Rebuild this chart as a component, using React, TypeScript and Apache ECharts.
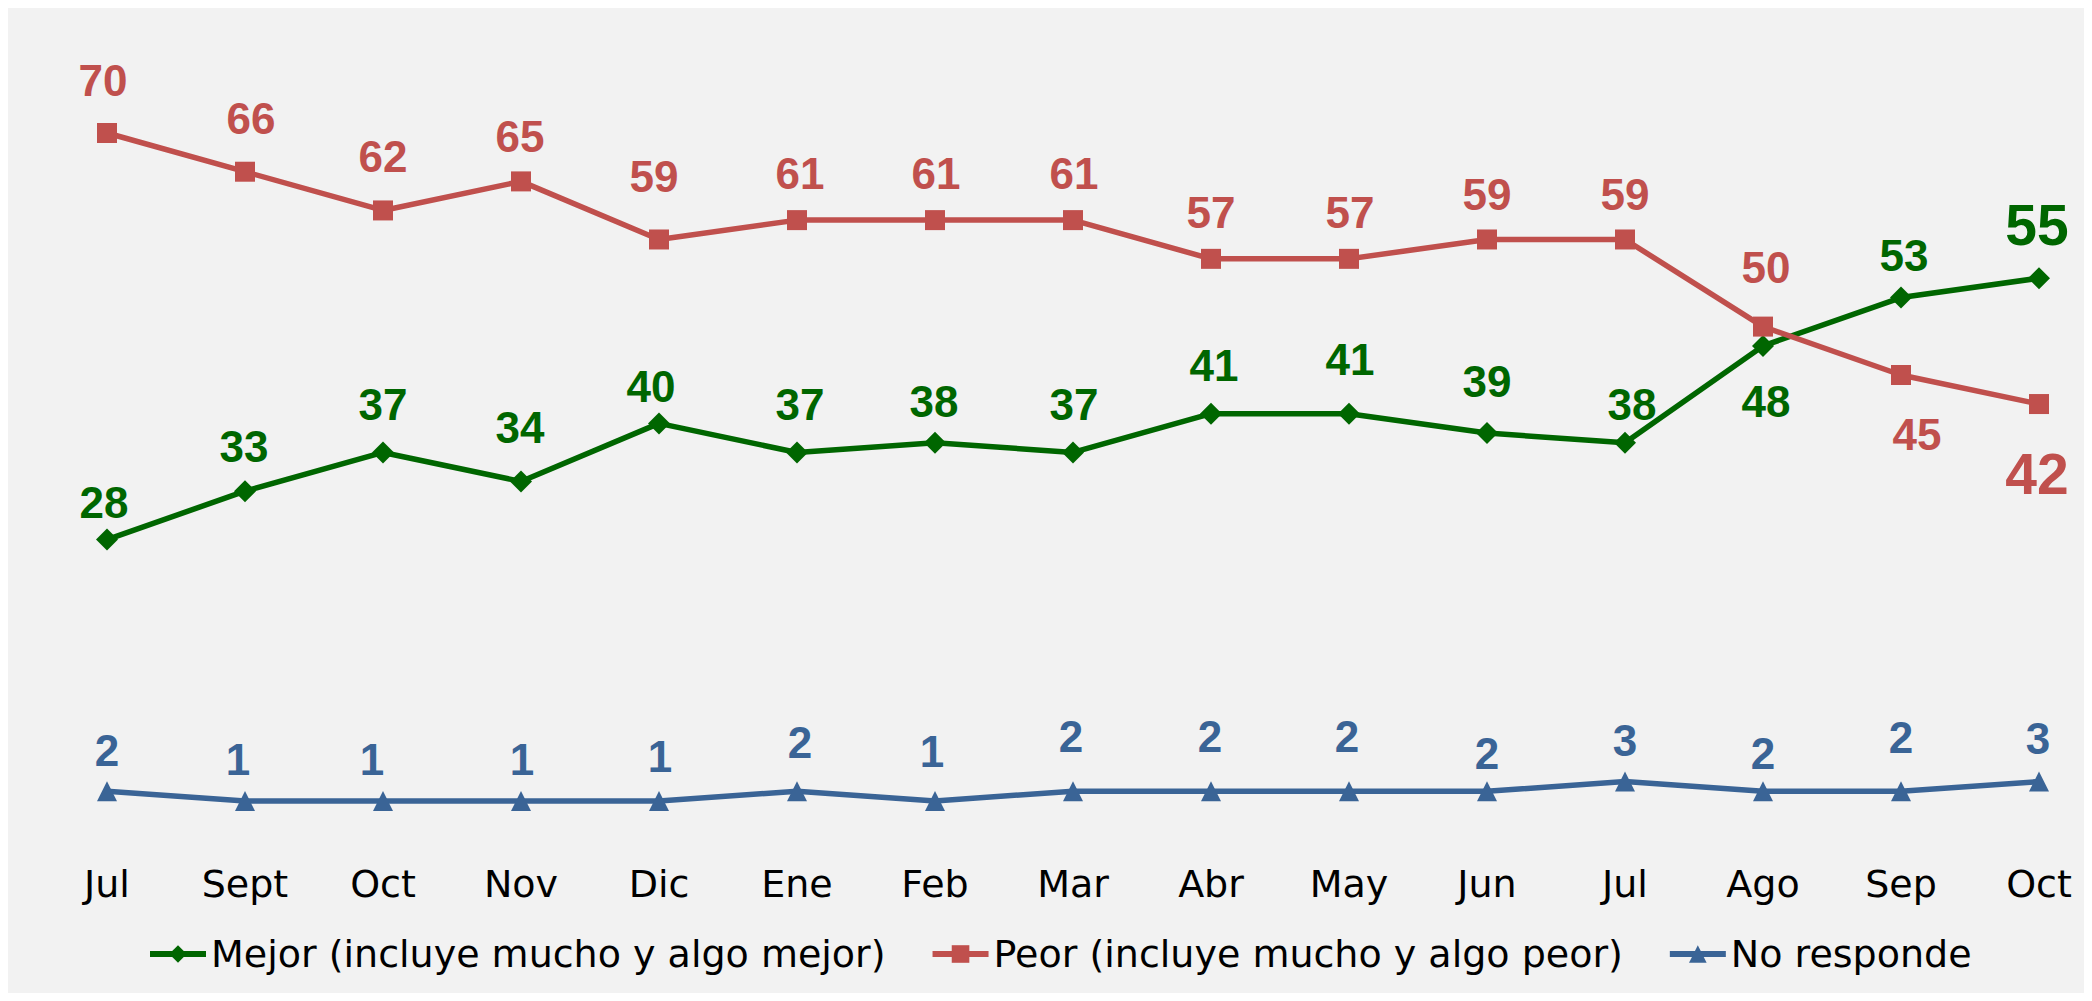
import React, { useEffect, useRef } from 'react';
import * as echarts from 'echarts';

const months = ['Jul', 'Sept', 'Oct', 'Nov', 'Dic', 'Ene', 'Feb', 'Mar', 'Abr', 'May', 'Jun', 'Jul', 'Ago', 'Sep', 'Oct'];
const seriesNames = ['Mejor (incluye mucho y algo mejor)', 'Peor (incluye mucho y algo peor)', 'No responde'];
const mejor = [28, 33, 37, 34, 40, 37, 38, 37, 41, 41, 39, 38, 48, 53, 55];
const peor = [70, 66, 62, 65, 59, 61, 61, 61, 57, 57, 59, 59, 50, 45, 42];
const noResponde = [2, 1, 1, 1, 1, 2, 1, 2, 2, 2, 2, 3, 2, 2, 3];

// label placement (offset of label centre from its point, px)
const mejorLabelDx = [-3, -1, 0, -1, -8, 3, -1, 1, 3, 1, 0, 7, 3, 3, -2];
const mejorLabelDy = [-37, -45, -48, -54, -37, -48, -41, -48, -48, -54, -52, -38, 56, -42, -53];
const peorLabelDx = [-4, 6, 0, -1, -5, 3, 1, 1, 0, 1, 0, 0, 3, 16, -2];
const peorLabelDy = [-53, -53, -54, -45, -63, -47, -47, -47, -46, -46, -45, -45, -59, 59, 70];
const noLabelDx = [0, -7, -11, 1, 1, 3, -3, -2, -1, -2, 0, 0, 0, 0, -1];
const noLabelDy = [-41, -41, -41, -41, -44, -49, -49, -55, -55, -55, -38, -41, -38, -54, -43];

const GREEN = '#006600';
const RED = '#C0504D';
const BLUE = '#3A6496';
const LABEL_FONT = "'Liberation Sans', Arial, sans-serif";
const TEXT_FONT = "'DejaVu Sans', sans-serif";

function buildData(values: number[], dx: number[], dy: number[], bigLast: boolean) {
  return values.map((v, i) => ({
    value: v,
    label: {
      offset: [dx[i], dy[i]],
      fontSize: bigLast && i === values.length - 1 ? 57 : 44,
    },
  }));
}

export default function App() {
  const ref = useRef<HTMLDivElement>(null);
  useEffect(() => {
    if (!ref.current) return;
    const chart = echarts.init(ref.current, null, { renderer: 'svg' });
    const mkSeries = (name: string, data: any[], color: string, symbol: string) => ({
      name,
      type: 'line',
      data,
      symbol,
      symbolSize: symbol === 'diamond' ? 22 : 20,
      lineStyle: { color, width: 5.5 },
      itemStyle: { color },
      label: {
        show: true,
        position: 'inside',
        color,
        fontFamily: LABEL_FONT,
        fontWeight: 'bold',
        fontSize: 44,
        align: 'center',
        verticalAlign: 'middle',
      },
      emphasis: { disabled: true },
    });
    chart.setOption({
      animation: false,
      backgroundColor: '#F2F2F2',
      grid: { left: 99, right: 45, top: 125, height: 677.6 },
      xAxis: {
        type: 'category',
        data: months,
        boundaryGap: false,
        axisLine: { show: false },
        axisTick: { show: false },
        axisLabel: { color: '#000', fontFamily: TEXT_FONT, fontSize: 38, margin: 54 },
      },
      yAxis: {
        type: 'value',
        min: 0,
        max: 70,
        show: false,
        splitLine: { show: false },
      },
      legend: {
        data: seriesNames,
        left: 134,
        top: 922,
        itemWidth: 56,
        itemHeight: 22,
        itemGap: 44,
        lineStyle: { width: 6 },
        textStyle: { color: '#000', fontFamily: TEXT_FONT, fontSize: 38 },
      },
      series: [
        mkSeries(seriesNames[0], buildData(mejor, mejorLabelDx, mejorLabelDy, true), GREEN, 'diamond'),
        mkSeries(seriesNames[1], buildData(peor, peorLabelDx, peorLabelDy, true), RED, 'rect'),
        mkSeries(seriesNames[2], buildData(noResponde, noLabelDx, noLabelDy, false), BLUE, 'triangle'),
      ],
    });
    return () => chart.dispose();
  }, []);
  return <div ref={ref} style={{ width: 2076, height: 985, background: '#F2F2F2' }} />;
}
